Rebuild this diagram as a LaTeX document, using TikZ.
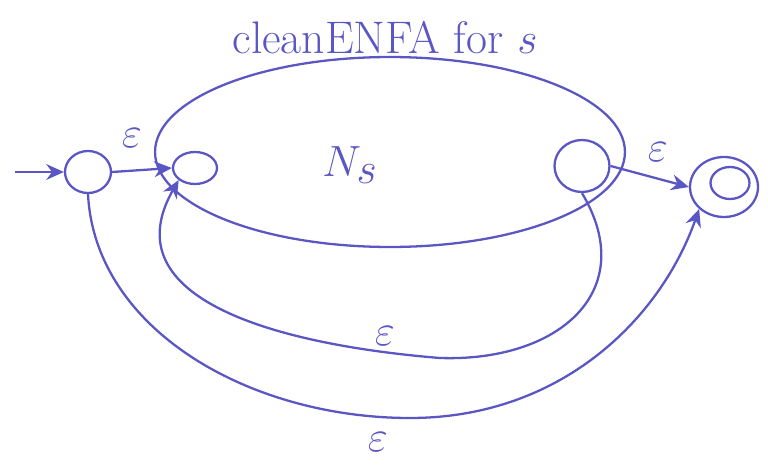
\documentclass[tikz,border=0pt]{standalone}
\usepackage{amsmath}
\usetikzlibrary{shapes.geometric, arrows.meta, positioning}
\definecolor{penBlue}{HTML}{5A56C4}

\tikzset{
  statenode/.style={draw=penBlue, line width=1.3pt, ellipse, inner sep=0pt},
  edgearrow/.style={-{Stealth[length=10pt, width=9pt]}, line width=1.3pt, penBlue},
  epslabel/.style={text=penBlue, font=\fontsize{26}{28}\selectfont}
}

\begin{document}
\begin{tikzpicture}[x=0.02cm, y=-0.02cm]
  \useasboundingbox (0,0) rectangle (768,466);
  % the machine N_s
  \node[statenode, minimum width=9.4cm, minimum height=3.8cm] (ns) at (390,152) {};
  \node[text=penBlue, font=\fontsize{40}{42}\selectfont] (nslabel) at (350,165) {$N_s$};
  \node[text=penBlue, font=\fontsize{26}{30}\selectfont] (title) at (385,38) {cleanENFA for $s$};
  % states
  \node[statenode, minimum width=0.92cm, minimum height=0.84cm] (st) at (88,172) {};
  \node[statenode, minimum width=0.88cm, minimum height=0.64cm] (ins) at (195,168) {};
  \node[statenode, minimum width=1.1cm, minimum height=1.04cm] (acc) at (582,166) {};
  \node[statenode, minimum width=1.36cm, minimum height=1.2cm] (fin) at (724,187) {};
  \node[statenode, minimum width=0.78cm, minimum height=0.64cm] (finin) at (730,183) {};
  \coordinate (entry) at (15,172);
  % transitions
  \draw[edgearrow] (entry) -- (st.west);
  \draw[edgearrow] (st.east) -- (ins.west);
  \draw[edgearrow] (acc.east) -- (fin.west);
  \draw[edgearrow] (acc.south) .. controls (640,290) and (560,362) .. (440,358)
    .. controls (280,345) and (110,300) .. (ins.south west);
  \draw[edgearrow] (st.south) .. controls (95,330) and (250,418) .. (410,418)
    .. controls (560,418) and (660,320) .. (fin.south west);
  % epsilon labels
  \node[epslabel] (e1) at (132,138) {$\varepsilon$};
  \node[epslabel] (e2) at (658,152) {$\varepsilon$};
  \node[epslabel] (e3) at (385,336) {$\varepsilon$};
  \node[epslabel] (e4) at (378,442) {$\varepsilon$};
\end{tikzpicture}
\end{document}
